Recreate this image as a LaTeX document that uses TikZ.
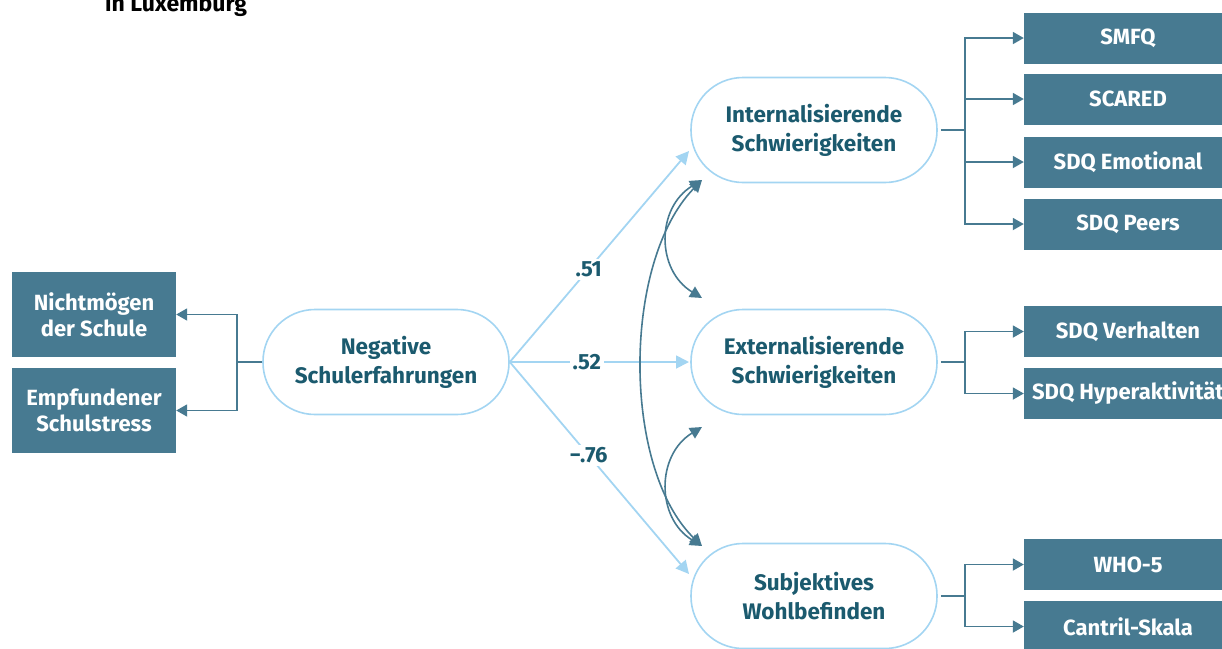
\documentclass[tikz,border=0pt]{standalone}
\usepackage{fontspec}
\setmainfont{Fira Sans}
\usetikzlibrary{arrows.meta}
\definecolor{boxc}{HTML}{477A91}
\definecolor{lightb}{HTML}{A3D5F2}
\definecolor{darkt}{HTML}{1B5A6E}
\tikzset{
  mbox/.style={fill=boxc, text=white, font=\bfseries\fontsize{22}{26}\selectfont, align=center, inner sep=0pt},
  pill/.style={draw=lightb, line width=1.6pt, fill=white, rounded corners=52pt, minimum width=246pt, minimum height=105pt, text=darkt, font=\bfseries\fontsize{22.5}{29}\selectfont, align=center, inner sep=0pt},
  darr/.style={draw=boxc, line width=1.8pt, -{Triangle[length=11pt,width=12pt]}},
  larr/.style={draw=lightb, line width=1.8pt, -{Triangle[length=13pt,width=13pt]}},
  cov/.style={draw=boxc, line width=1.6pt, {Triangle[length=12pt,width=12pt]}-{Triangle[length=12pt,width=12pt]}},
  coef/.style={fill=white, text=darkt, font=\bfseries\fontsize{22}{24}\selectfont, inner sep=3pt},
}
\begin{document}
\begin{tikzpicture}[x=1pt,y=-1pt]
\useasboundingbox (0,0) rectangle (1222,648);
\clip (0,0) rectangle (1222,648);
% title
\node[anchor=base west, inner sep=0pt, font=\bfseries\fontsize{23}{26}\selectfont] (title) at (105,11) {in Luxemburg};
% left boxes
\node[mbox, minimum width=164pt, minimum height=85pt] (nm) at (94,314.5) {Nichtmögen\\der Schule};
\node[mbox, minimum width=164pt, minimum height=85pt] (es) at (94,410.5) {Empfundener\\Schulstress};
% latent nodes
\node[pill] (neg) at (386,362) {Negative\\Schulerfahrungen};
\node[pill] (int) at (814,130) {Internalisierende\\Schwierigkeiten};
\node[pill] (ext) at (814,362) {Externalisierende\\Schwierigkeiten};
\node[pill] (sub) at (814,596) {Subjektives\\Wohlbefinden};
% right boxes
\foreach \n/\y/\t in {smfq/38/SMFQ, scared/99/SCARED, sdqe/162/SDQ Emotional, sdqp/224/SDQ Peers, sdqv/331.5/SDQ Verhalten, sdqh/393.5/SDQ Hyperaktivität, who/564.5/WHO-5, can/626.5/Cantril-Skala}
  \node[mbox, minimum width=208pt, minimum height=51pt] (\n) at (1128,\y) {\t};
% left bracket
\coordinate (lb) at (237,362);
\draw[boxc, line width=1.8pt] (neg.west) -- (lb);
\draw[darr] (lb) |- (nm.east);
\draw[darr] (lb) |- (es.east);
% right brackets
\coordinate (rb1) at (965,130);
\draw[boxc, line width=1.8pt] (int.east) ++(3,0) -- (rb1);
\foreach \n in {smfq, scared, sdqe, sdqp} \draw[darr] (rb1) |- (\n.west);
\coordinate (rb2) at (965,362);
\draw[boxc, line width=1.8pt] (ext.east) ++(3,0) -- (rb2);
\foreach \n in {sdqv, sdqh} \draw[darr] (rb2) |- (\n.west);
\coordinate (rb3) at (965,596);
\draw[boxc, line width=1.8pt] (sub.east) ++(3,0) -- (rb3);
\foreach \n in {who, can} \draw[darr] (rb3) |- (\n.west);
% structural paths
\coordinate (t1) at (689,151);
\coordinate (t2) at (689,362);
\coordinate (t3) at (689,574);
\draw[larr] (neg.east) -- (t1) node[coef, pos=0.44] (c1) {.51};
\draw[larr] (neg.east) -- (t2) node[coef, pos=0.43] (c2) {.52};
\draw[larr] (neg.east) -- (t3) node[coef, pos=0.44] (c3) {−.76};
% covariances
\coordinate (ia) at (702,180);
\coordinate (ea) at (702,298);
\coordinate (eb) at (702,427);
\coordinate (sa) at (702,546);
\draw[cov] (ia) .. controls (656,208) and (656,270) .. (ea);
\draw[cov] (eb) .. controls (656,455) and (656,518) .. (sa);
\draw[cov] (ia) .. controls (622,262) and (622,468) .. (sa);
\end{tikzpicture}
\end{document}
